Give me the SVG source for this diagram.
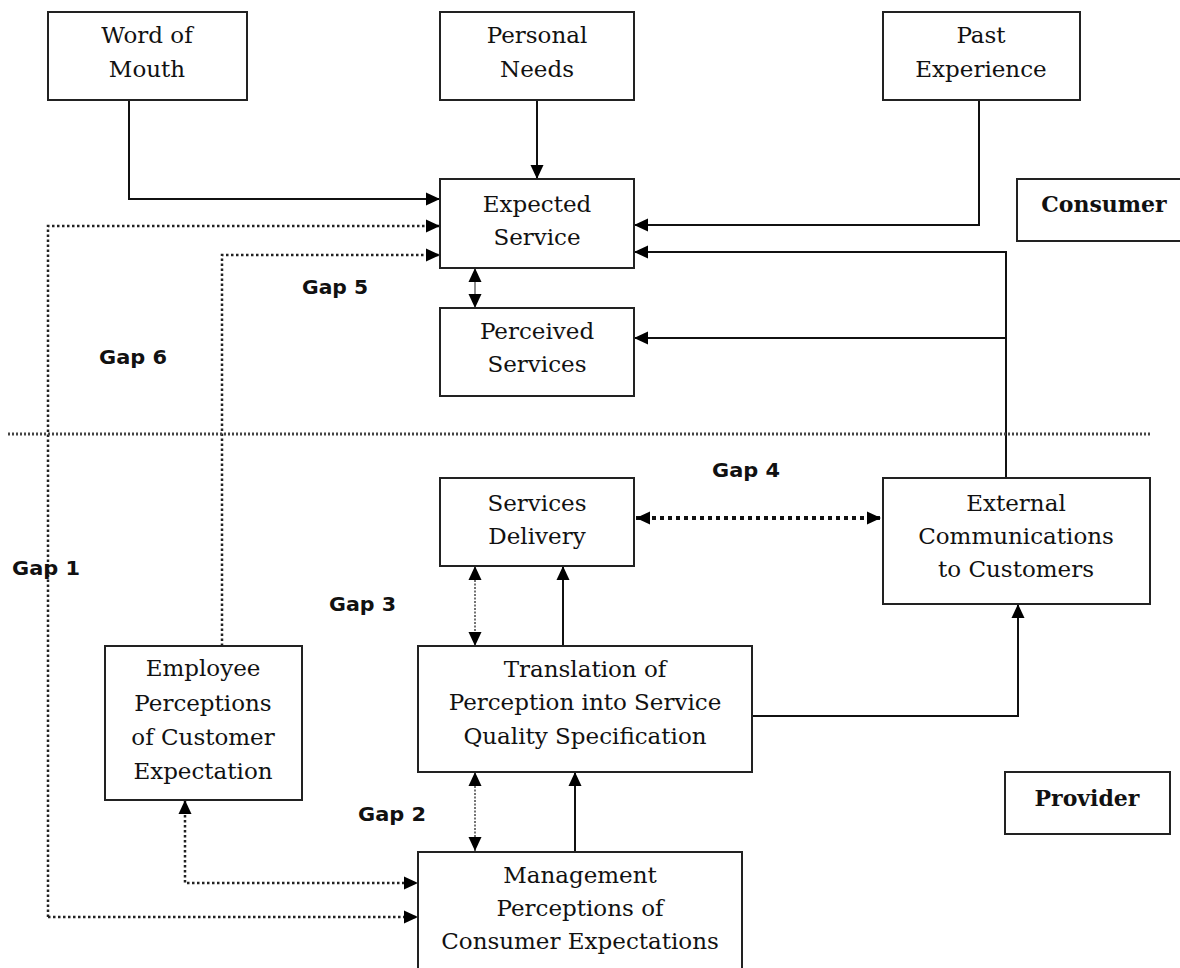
<svg xmlns="http://www.w3.org/2000/svg" width="1180" height="968" viewBox="0 0 1180 968">
<style>
.box{fill:#fff;stroke:#222;stroke-width:2}
.t{font-family:"DejaVu Serif",serif;font-size:23px;fill:#111;text-anchor:middle}
.tb{font-family:"DejaVu Serif",serif;font-size:22px;font-weight:bold;fill:#111;text-anchor:middle}
.gap{font-family:"DejaVu Sans","Liberation Sans",sans-serif;font-size:19px;font-weight:bold;fill:#111}
.c{fill:none;stroke:#111;stroke-width:2}
.d{fill:none;stroke:#222;stroke-width:2.5;stroke-dasharray:2.5 2.5}
.d4{fill:none;stroke:#111;stroke-width:4;stroke-dasharray:4 4}
.dt{fill:none;stroke:#444;stroke-width:1.5;stroke-dasharray:2 1.5}
</style>
<defs>
<marker id="a" markerUnits="userSpaceOnUse" markerWidth="15" markerHeight="14" refX="14" refY="7" orient="auto-start-reverse" viewBox="0 0 15 14">
<path d="M0,0.5 L14,7 L0,13.5 z" fill="#000"/>
</marker>
</defs>
<g id="connectors">
<path class="c" d="M129,100 V199 H440" marker-end="url(#a)"/>
<path class="c" d="M537,100 V179" marker-end="url(#a)"/>
<path class="c" d="M979,100 V225 H634" marker-end="url(#a)"/>
<path class="c" d="M1006,478 V252 H634" marker-end="url(#a)"/>
<path class="c" d="M1006,338 H634" marker-end="url(#a)"/>
<path fill="none" stroke="#666" stroke-width="1.5" d="M475,268 V308" marker-start="url(#a)" marker-end="url(#a)"/>
<path class="d" d="M222,646 V255 H440" marker-end="url(#a)"/>
<path class="d" d="M48,917 V226 H440" marker-end="url(#a)"/>
<path class="d" d="M48,917 H418" marker-end="url(#a)"/>
<path class="d" d="M185,800 V883 H418" marker-start="url(#a)" marker-end="url(#a)"/>
<path class="d4" d="M636,518 H881" marker-start="url(#a)" marker-end="url(#a)"/>
<path class="dt" d="M475,566 V646" marker-start="url(#a)" marker-end="url(#a)"/>
<path class="c" d="M563,646 V566" marker-end="url(#a)"/>
<path class="dt" d="M475,772 V851" marker-start="url(#a)" marker-end="url(#a)"/>
<path class="c" d="M575,851 V772" marker-end="url(#a)"/>
<path class="c" d="M752,716 H1018 V604" marker-end="url(#a)"/>
<path fill="none" stroke="#444" stroke-width="3" stroke-dasharray="2 2" d="M8,434 H1152"/>
</g>
<g id="word-of-mouth"><rect class="box" x="48" y="12" width="199" height="88"/><text class="t" x="147" y="43">Word of</text><text class="t" x="147" y="77">Mouth</text></g>
<g id="personal-needs"><rect class="box" x="440" y="12" width="194" height="88"/><text class="t" x="537" y="43">Personal</text><text class="t" x="537" y="77">Needs</text></g>
<g id="past-experience"><rect class="box" x="883" y="12" width="197" height="88"/><text class="t" x="981" y="43">Past</text><text class="t" x="981" y="77">Experience</text></g>
<g id="expected-service"><rect class="box" x="440" y="179" width="194" height="89"/><text class="t" x="537" y="212">Expected</text><text class="t" x="537" y="245">Service</text></g>
<g id="consumer"><rect class="box" x="1017" y="179" width="170" height="62"/><text class="tb" x="1104" y="212">Consumer</text></g>
<g id="perceived-services"><rect class="box" x="440" y="308" width="194" height="88"/><text class="t" x="537" y="339">Perceived</text><text class="t" x="537" y="372">Services</text></g>
<g id="services-delivery"><rect class="box" x="440" y="478" width="194" height="88"/><text class="t" x="537" y="511">Services</text><text class="t" x="537" y="544">Delivery</text></g>
<g id="external-communications"><rect class="box" x="883" y="478" width="267" height="126"/><text class="t" x="1016" y="511">External</text><text class="t" x="1016" y="544">Communications</text><text class="t" x="1016" y="577">to Customers</text></g>
<g id="employee-perceptions"><rect class="box" x="105" y="646" width="197" height="154"/><text class="t" x="203" y="676">Employee</text><text class="t" x="203" y="711">Perceptions</text><text class="t" x="203" y="745">of Customer</text><text class="t" x="203" y="779">Expectation</text></g>
<g id="translation"><rect class="box" x="418" y="646" width="334" height="126"/><text class="t" x="585" y="677">Translation of</text><text class="t" x="585" y="710">Perception into Service</text><text class="t" x="585" y="744">Quality Specification</text></g>
<g id="provider"><rect class="box" x="1005" y="772" width="165" height="62"/><text class="tb" x="1087" y="806">Provider</text></g>
<g id="management-perceptions"><rect class="box" x="418" y="852" width="324" height="120"/><text class="t" x="580" y="883">Management</text><text class="t" x="580" y="916">Perceptions of</text><text class="t" x="580" y="949">Consumer Expectations</text></g>
<g id="gap-labels">
<text class="gap" x="302" y="294" textLength="66" lengthAdjust="spacingAndGlyphs">Gap 5</text>
<text class="gap" x="99" y="364" textLength="68" lengthAdjust="spacingAndGlyphs">Gap 6</text>
<text class="gap" x="712" y="477" textLength="68" lengthAdjust="spacingAndGlyphs">Gap 4</text>
<text class="gap" x="12" y="575" textLength="68" lengthAdjust="spacingAndGlyphs">Gap 1</text>
<text class="gap" x="329" y="611" textLength="67" lengthAdjust="spacingAndGlyphs">Gap 3</text>
<text class="gap" x="358" y="821" textLength="68" lengthAdjust="spacingAndGlyphs">Gap 2</text>
</g>
</svg>
